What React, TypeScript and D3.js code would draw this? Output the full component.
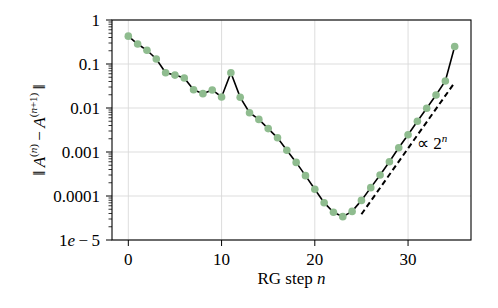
import React from 'react';
import * as d3 from 'd3';

// RG step n and the norm of the change between successive steps
const steps = [0, 1, 2, 3, 4, 5, 6, 7, 8, 9, 10, 11, 12, 13, 14, 15, 16, 17,
  18, 19, 20, 21, 22, 23, 24, 25, 26, 27, 28, 29, 30, 31, 32, 33, 34, 35];
const diffs = [0.43, 0.285, 0.205, 0.13, 0.0635, 0.056, 0.048, 0.026, 0.0212,
  0.0257, 0.0178, 0.0635, 0.0175, 0.0078, 0.0055, 0.0034, 0.0021, 0.0011,
  0.00058, 0.00029, 0.000142, 0.0000705, 0.0000427, 0.0000339, 0.0000447,
  0.0000795, 0.000155, 0.0003, 0.0006, 0.00125, 0.00247, 0.005, 0.0099,
  0.0197, 0.041, 0.25];

// the dashed guide, proportional to 2^n
const guideSteps = [25, 35];
const guideValues = [0.0000385, 0.038];

const xTicks = [0, 10, 20, 30];
const yTicks = [1, 0.1, 0.01, 0.001, 0.0001, 0.00001];
const yTickLabels = ['1', '0.1', '0.01', '0.001', '0.0001', '1e-5'];

const W = 498;
const H = 308;
const TXT = { fontFamily: "'Times New Roman'" };
const FS = 17;
const SM = 11;

const left = 112, right = 471, top = 20, bottom = 240;
const x = d3.scaleLinear().domain([-1.75, 36.75]).range([left, right]);
const y = d3.scaleLog().domain([1e-5, 1]).range([bottom, top]);

function ErrorChart() {
  const minor: number[] = [];
  yTicks.slice(1).forEach(base => {
    for (let k = 2; k <= 9; k++) minor.push(base * k);
  });

  const pts = steps.map((s, i) => [s, diffs[i]] as [number, number]);
  const guide = guideSteps.map((s, i) => [s, guideValues[i]] as [number, number]);
  const line = d3.line<[number, number]>().x(d => x(d[0])).y(d => y(d[1]));

  return (
    <svg width={W} height={H} style={{ position: 'absolute', left: 0, top: 0 }}>
      <g stroke="#d9d9d9" strokeWidth={0.9}>
        {xTicks.map(t => <line key={'gx' + t} x1={x(t)} x2={x(t)} y1={top} y2={bottom} />)}
        {yTicks.map(t => <line key={'gy' + t} x1={left} x2={right} y1={y(t)} y2={y(t)} />)}
      </g>

      <g stroke="#000" strokeWidth={0.8}>
        {minor.map(t => <line key={'m' + t} x1={left - 3.5} x2={left} y1={y(t)} y2={y(t)} />)}
      </g>
      <g stroke="#000" strokeWidth={1}>
        {yTicks.map(t => <line key={'yt' + t} x1={left - 6} x2={left} y1={y(t)} y2={y(t)} />)}
        {xTicks.map(t => <line key={'xt' + t} x1={x(t)} x2={x(t)} y1={bottom} y2={bottom + 6} />)}
      </g>

      {yTicks.map((t, i) => (
        <text key={'yl' + t} x={left - 12} y={y(t) + 5.5} textAnchor="end"
          fontSize={FS} style={TXT}>
          {yTickLabels[i] === '1e-5'
            ? <><tspan>1</tspan><tspan fontStyle="italic">e</tspan><tspan>{'\u2009\u2212\u20095'}</tspan></>
            : yTickLabels[i]}
        </text>
      ))}
      {xTicks.map(t => (
        <text key={'xl' + t} x={x(t)} y={bottom + 25} textAnchor="middle"
          fontSize={FS} style={TXT}>{t}</text>
      ))}

      <rect x={left} y={top} width={right - left} height={bottom - top}
        fill="none" stroke="#000" strokeWidth={1.1} />

      <path d={line(guide) || ''} fill="none" stroke="#000" strokeWidth={2}
        strokeDasharray="5.5,3.5" />
      <path d={line(pts) || ''} fill="none" stroke="#000" strokeWidth={1.6} />
      {pts.map(p => (
        <circle key={'c' + p[0]} cx={x(p[0])} cy={y(p[1])} r={3.8} fill="#8fbc8f" />
      ))}

      <text x={417} y={149} fontSize={FS} style={TXT}>
        <tspan>{'\u221D 2'}</tspan>
        <tspan fontStyle="italic" fontSize={SM} dy={-7}>n</tspan>
      </text>

      <text x={(left + right) / 2} y={284} textAnchor="middle" fontSize={FS} style={TXT}>
        <tspan>RG step </tspan>
        <tspan fontStyle="italic">n</tspan>
      </text>

      <text transform={`translate(45,${(top + bottom) / 2}) rotate(-90)`} textAnchor="middle"
        fontSize={FS} style={TXT}>
        <tspan>{'\u2016\u2009'}</tspan>
        <tspan fontStyle="italic">A</tspan>
        <tspan fontSize={SM} dy={-8}>(</tspan>
        <tspan fontSize={SM} fontStyle="italic">n</tspan>
        <tspan fontSize={SM}>)</tspan>
        <tspan dy={8}>{'\u2009\u2212\u2009'}</tspan>
        <tspan fontStyle="italic">A</tspan>
        <tspan fontSize={SM} dy={-8}>(</tspan>
        <tspan fontSize={SM} fontStyle="italic">n</tspan>
        <tspan fontSize={SM}>+1)</tspan>
        <tspan dy={8}>{'\u2009\u2016'}</tspan>
      </text>
    </svg>
  );
}

export default function App() {
  return <ErrorChart />;
}
